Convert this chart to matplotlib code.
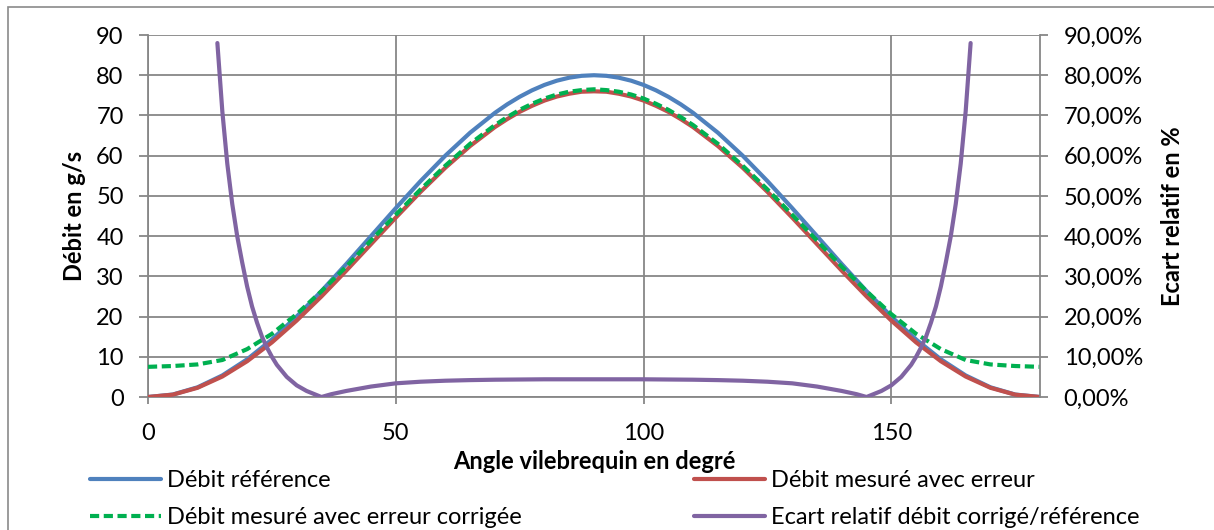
import matplotlib
matplotlib.use("Agg")
import matplotlib.pyplot as plt
from matplotlib.patches import Rectangle
from matplotlib.ticker import FuncFormatter

plt.rcParams['font.family'] = ['Lato', 'DejaVu Sans']

# ---- data ----
angle = [0, 5, 10, 15, 20, 25, 30, 35, 40, 45, 50, 55, 60, 65, 70, 72.5, 75, 77.5, 80, 82.5, 85, 87.5, 90,
         92.5, 95, 97.5, 100, 102.5, 105, 107.5, 110, 115, 120, 125, 130, 135, 140, 145, 150, 155,
         160, 165, 170, 175, 180]

debit_reference = [0, 0.61, 2.41, 5.36, 9.36, 14.29, 20.0, 26.32, 33.05, 40.0, 46.95, 53.68,
                   60.0, 65.71, 70.64, 72.77, 74.64, 76.25, 77.59, 78.64, 79.39, 79.85, 80.0,
                   79.85, 79.39, 78.64, 77.59, 76.25, 74.64, 72.77, 70.64, 65.71, 60.0, 53.68,
                   46.95, 40.0, 33.05, 26.32, 20.0, 14.29, 9.36, 5.36, 2.41, 0.61, 0]

debit_mesure = [0, 0.58, 2.29, 5.09, 8.89, 13.57, 19.0, 25.0, 31.4, 38.0, 44.6, 51.0,
                57.0, 62.4, 67.1, 69.1, 70.9, 72.4, 73.7, 74.7, 75.4, 75.9, 76.0,
                75.9, 75.4, 74.7, 73.7, 72.4, 70.9, 69.1, 67.1, 62.4, 57.0, 51.0,
                44.6, 38.0, 31.4, 25.0, 19.0, 13.57, 8.89, 5.09, 2.29, 0.58, 0]

debit_corrige = [7.5, 7.7, 8.1, 9.2, 11.9, 15.7, 20.6, 26.3, 32.4, 38.9, 45.3, 51.6,
                 57.5, 62.95, 67.6, 69.6, 71.4, 72.9, 74.2, 75.2, 75.9, 76.3, 76.5,
                 76.3, 75.9, 75.2, 74.2, 72.9, 71.4, 69.6, 67.6, 62.95, 57.5, 51.6,
                 45.3, 38.9, 32.4, 26.3, 20.6, 15.7, 11.9, 9.2, 8.1, 7.7, 7.5]

angle_ecart = [14, 15, 16, 17, 18, 19, 20, 21, 22, 23, 24, 25, 26, 27, 28, 30, 32, 35, 37,
               40, 45, 50, 55, 60, 65, 70, 75, 80, 85, 90,
               95, 100, 105, 110, 115, 120, 125, 130, 135, 140, 143, 145, 148, 150, 152,
               153, 154, 155, 156, 157, 158, 159, 160, 161, 162, 163, 164, 165, 166]
ecart_relatif = [88, 71, 58, 48, 40, 33.5, 27.5, 22.5, 18.5, 15, 12.3, 10, 8, 6.5, 5.0, 2.9, 1.5, 0, 0.7,
                 1.5, 2.6, 3.4, 3.8, 4.05, 4.2, 4.3, 4.35, 4.4, 4.4, 4.4,
                 4.4, 4.4, 4.35, 4.3, 4.2, 4.05, 3.8, 3.4, 2.6, 1.5, 0.7, 0, 1.5, 2.9, 5.0,
                 6.5, 8, 10, 12.3, 15, 18.5, 22.5, 27.5, 33.5, 40, 48, 58, 71, 88]

x_ticks = [0, 50, 100, 150]
y_ticks = [0, 10, 20, 30, 40, 50, 60, 70, 80, 90]

# ---- figure ----
W, H = 1214, 530
fig = plt.figure(figsize=(W / 100, H / 100), dpi=100)
ax = fig.add_axes([148 / W, 1 - 397 / H, (1040 - 148) / W, (397 - 35) / H])
ax2 = ax.twinx()

grid_c = '#878787'
blue, red, green, purple = '#4F81BD', '#C0504D', '#00B050', '#8064A2'
FS = 17

l1, = ax.plot(angle, debit_reference, color=blue, lw=3.0, solid_capstyle='round', zorder=3)
l2, = ax.plot(angle, debit_mesure, color=red, lw=3.0, solid_capstyle='round', zorder=4)
l3, = ax.plot(angle, debit_corrige, color=green, lw=3.0, dashes=(2.2, 1.1), zorder=5)
l4, = ax2.plot(angle_ecart, ecart_relatif, color=purple, lw=3.0, solid_capstyle='round', zorder=6)

ax.set_xlim(0, 180)
ax.set_ylim(0, 90)
ax2.set_ylim(0, 90)
ax.set_xticks(x_ticks)
ax.set_yticks(y_ticks)
ax2.set_yticks(y_ticks)
ax2.yaxis.set_major_formatter(FuncFormatter(lambda v, p: f"{v:.2f}".replace('.', ',') + '%'))

ax.grid(True, color=grid_c, lw=1.3)
ax.set_axisbelow(True)
for a in (ax, ax2):
    for s in a.spines.values():
        s.set_visible(False)
ax.spines['left'].set_visible(True)
ax.spines['bottom'].set_visible(True)
ax2.spines['right'].set_visible(True)
for s in (ax.spines['left'], ax.spines['bottom'], ax2.spines['right']):
    s.set_color(grid_c)
    s.set_linewidth(1.3)

ax.tick_params(axis='x', direction='out', length=5, width=1.3, color=grid_c, labelsize=FS, pad=14)
ax.tick_params(axis='y', direction='out', length=6.5, width=1.3, color=grid_c, labelsize=FS, pad=11)
ax2.tick_params(axis='y', direction='out', length=6, width=1.3, color=grid_c, labelsize=FS, pad=11)

ax.set_xlabel('Angle vilebrequin en degré', fontsize=FS, fontweight='bold', labelpad=4)
ax.set_ylabel('Débit en g/s', fontsize=FS, fontweight='bold', labelpad=7)
ax2.set_ylabel('Ecart relatif en %', fontsize=FS, fontweight='bold', labelpad=13)

ax2.set_zorder(ax.get_zorder() + 1)
ax2.patch.set_visible(False)

fig.legend([l1, l3, l2, l4],
           ['Débit référence', 'Débit mesuré avec erreur corrigée',
            'Débit mesuré avec erreur', 'Ecart relatif débit corrigé/référence'],
           loc='upper left', bbox_to_anchor=(90 / W, 1 - 470 / H), ncol=2, frameon=False,
           fontsize=FS, handlelength=3.0, handletextpad=0.25, columnspacing=7.3,
           labelspacing=0.68, borderpad=0, borderaxespad=0)

fig.add_artist(Rectangle((8 / W, -0.2), 1.5, 1.2 - 7 / H, transform=fig.transFigure,
                         fill=False, edgecolor='#8a8a8a', lw=1.2))

fig.savefig('out.png', dpi=100)
